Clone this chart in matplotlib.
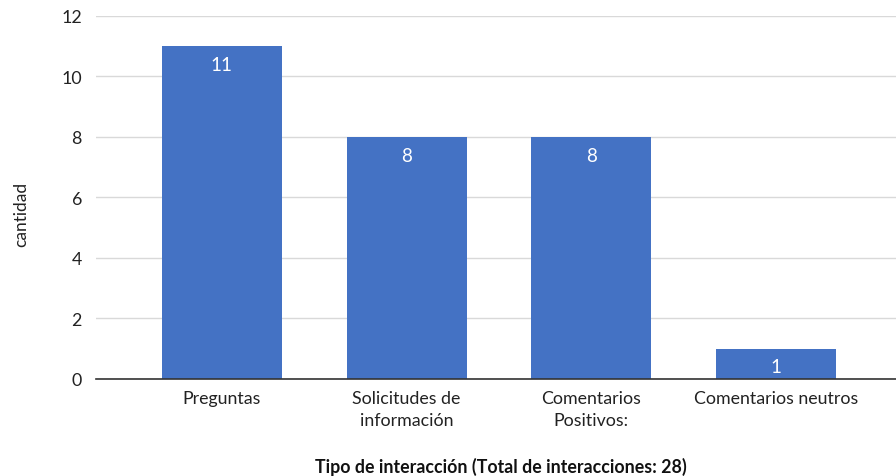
import matplotlib.pyplot as plt

# data
categorias = ["Preguntas", "Solicitudes de\ninformación", "Comentarios\nPositivos:", "Comentarios neutros"]
cantidad = [11, 8, 8, 1]
yticks = [0, 2, 4, 6, 8, 10, 12]

plt.rcParams['font.family'] = ['Lato', 'DejaVu Sans']

fig = plt.figure(figsize=(8.96, 4.77), dpi=100)
ax = fig.add_axes([0.107, 0.2034, 0.893, 0.761])

x = range(len(categorias))
bars = ax.bar(x, cantidad, width=0.65, color="#4472C4", zorder=3)

for b, v in zip(bars, cantidad):
    ax.text(b.get_x() + b.get_width() / 2, v - 0.32, str(v), ha="center", va="top",
            color="white", fontsize=13.5, zorder=4)

ax.set_xlim(-0.682, 3.65)
ax.set_ylim(0, 12)
ax.set_yticks(yticks)
ax.set_xticks(list(x))
ax.set_xticklabels(categorias, fontsize=12.8, color="#222222", linespacing=1.45)
ax.tick_params(axis='y', labelsize=12.8, colors="#222222", length=0, pad=10)
ax.tick_params(axis='x', length=0, pad=8)

ax.grid(axis='y', color="#d9d9d9", linewidth=1, zorder=0)
for s in ["top", "right", "left"]:
    ax.spines[s].set_visible(False)
ax.spines["bottom"].set_color("#333333")
ax.spines["bottom"].set_linewidth(1.2)
ax.spines["bottom"].set_zorder(5)

fig.text(0.559, 0.022, "Tipo de interacción (Total de interacciones: 28)", ha="center", va="center",
         fontsize=12.8, fontweight="bold", color="#111111")
fig.text(0.024, 0.55, "cantidad", rotation=90, ha="center", va="center", fontsize=12.5, color="#222222")

fig.savefig("out.png", dpi=100)
